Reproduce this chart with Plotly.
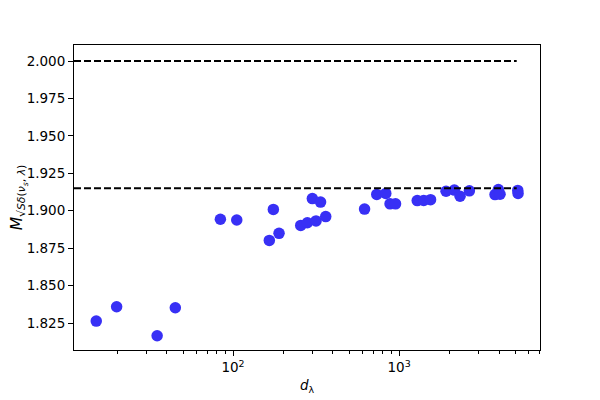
import plotly.graph_objects as go

d_lambda = [15.0, 19.9, 34.9, 44.9, 83.9, 105.3, 165.4, 174.9, 189.3, 255.7,
            280.3, 300.4, 316.2, 336.6, 361.7, 619.7, 734.0, 831.7, 882.6, 952.6,
            1287, 1408, 1548, 1919, 2153, 2331, 2652, 3786, 3965, 4058,
            5189, 5211]
m_value = [1.8263, 1.8359, 1.8165, 1.8352, 1.8943, 1.8938, 1.8802, 1.9009, 1.8849, 1.8902,
           1.8920, 1.9081, 1.8932, 1.9058, 1.8961, 1.9011, 1.9109, 1.9116, 1.9046, 1.9046,
           1.9068, 1.9069, 1.9074, 1.9130, 1.9138, 1.9097, 1.9133, 1.9108, 1.9142, 1.9110,
           1.9136, 1.9115]
ref_levels = [2.0, 1.915]

y_ticks = [1.825, 1.850, 1.875, 1.900, 1.925, 1.950, 1.975, 2.000]
x_ticks = [100, 1000]
x_ticktext = ["10<sup>2</sup>", "10<sup>3</sup>"]
x_minor = [m * 10 ** e for e in (1, 2, 3) for m in range(2, 10)]

fig = go.Figure()
fig.add_trace(go.Scatter(
    x=d_lambda, y=m_value, mode="markers",
    marker=dict(color="rgb(56,48,245)", size=11.5, line=dict(width=0)),
    showlegend=False,
))

for lvl in ref_levels:
    fig.add_shape(type="line", xref="x domain", yref="y",
                  x0=0, x1=0.95, y0=lvl, y1=lvl,
                  line=dict(color="black", width=2, dash="7px,3px"))

axis_font = dict(family="DejaVu Sans", size=13.5, color="black")

# page body has an 8px margin, so margins are trimmed to keep the plot box in place
fig.update_layout(
    width=600, height=400,
    margin=dict(l=66, r=68, t=37, b=58),
    paper_bgcolor="white", plot_bgcolor="white",
    font=axis_font,
)
fig.update_xaxes(
    type="log", range=[1.042, 3.849], automargin=False,
    tickvals=x_ticks, ticktext=x_ticktext,
    ticks="outside", ticklen=5, tickwidth=1, tickcolor="black",
    minor=dict(tickvals=x_minor, ticks="outside", ticklen=3, tickwidth=0.8,
               tickcolor="black", showgrid=False),
    showline=True, linecolor="black", linewidth=1, mirror=True,
    showgrid=False, zeroline=False,
    title=dict(text="<i>d</i><sub>λ</sub>", standoff=6, font=axis_font),
)
fig.update_yaxes(
    range=[1.807, 2.0107], automargin=False,
    tickvals=y_ticks, tickformat=".3f",
    ticks="outside", ticklen=5, tickwidth=1, tickcolor="black",
    showline=True, linecolor="black", linewidth=1, mirror=True,
    showgrid=False, zeroline=False,
    title=dict(text="<i>M</i><sub>√<i>S</i><i>δ</i>(<i>ν<sub>s</sub></i>, <i>λ</i>)</sub>",
               standoff=4, font=dict(family="DejaVu Sans", size=15.5, color="black")),
)

fig.write_html("out.html")
